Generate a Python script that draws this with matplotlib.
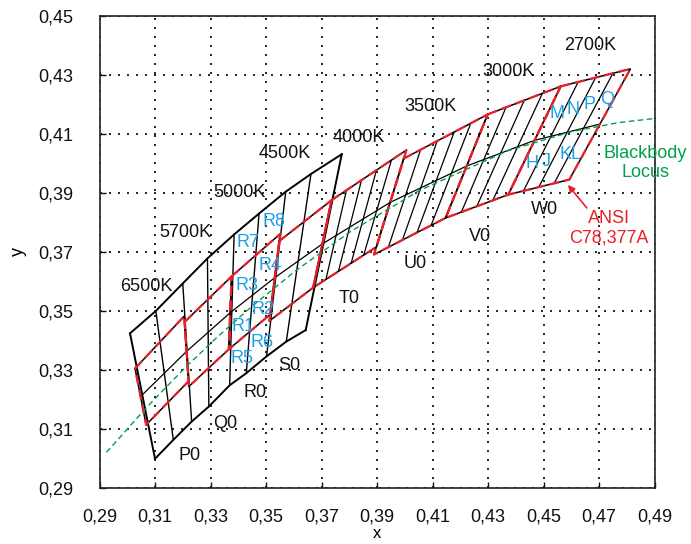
"""
ANSI C78.377A chromaticity quadrangles with LED sub-bins on the CIE 1931 x,y diagram.
"""

import matplotlib
matplotlib.use("Agg")
import matplotlib.pyplot as plt

plt.rcParams["font.family"] = ["Liberation Sans", "DejaVu Sans"]

# ---------------------------------------------------------------------------
# DATA
# ---------------------------------------------------------------------------

# ANSI quadrangles, corners ordered TL, TR, BR, BL
ANSI_CCT = ["6500K", "5700K", "5000K", "4500K", "4000K", "3500K", "3000K", "2700K"]
ANSI_X = [
    [0.3028, 0.3205, 0.3221, 0.3068],
    [0.3207, 0.3376, 0.3366, 0.3222],
    [0.3376, 0.3551, 0.3515, 0.3366],
    [0.3548, 0.3736, 0.3670, 0.3512],
    [0.3736, 0.4006, 0.3898, 0.3670],
    [0.3996, 0.4299, 0.4147, 0.3889],
    [0.4299, 0.4562, 0.4373, 0.4147],
    [0.4562, 0.4813, 0.4593, 0.4373],
]
ANSI_Y = [
    [0.3304, 0.3481, 0.3261, 0.3113],
    [0.3462, 0.3616, 0.3369, 0.3243],
    [0.3616, 0.3760, 0.3487, 0.3369],
    [0.3736, 0.3874, 0.3578, 0.3465],
    [0.3874, 0.4044, 0.3716, 0.3578],
    [0.4015, 0.4165, 0.3814, 0.3690],
    [0.4165, 0.4260, 0.3893, 0.3814],
    [0.4260, 0.4319, 0.3944, 0.3893],
]

# Cool white grid (6500K..4500K), extended one row above and below
GRID_TOP_X = [0.3010, 0.3103, 0.3200, 0.3289, 0.3385, 0.3475, 0.3571, 0.3662, 0.3773]
GRID_TOP_Y = [0.3423, 0.3499, 0.3592, 0.3677, 0.3758, 0.3829, 0.3903, 0.3963, 0.4030]
GRID_BOT_X = [0.3100, 0.3166, 0.3232, 0.3294, 0.3369, 0.3429, 0.3502, 0.3573, 0.3643]
GRID_BOT_Y = [0.2998, 0.3062, 0.3124, 0.3175, 0.3247, 0.3288, 0.3345, 0.3395, 0.3434]

# middle rows
MID_A_X = [0.3048, 0.3214, 0.3371, 0.3532, 0.3703]
MID_A_Y = [0.3209, 0.3362, 0.3493, 0.3612, 0.3726]
MID_B_X = [0.3703, 0.3948, 0.4223, 0.4468, 0.4703]
MID_B_Y = [0.3726, 0.3867, 0.3990, 0.4077, 0.4132]

# warm white sub-bin diagonals (top point -> bottom point)
HATCH_X1 = [0.3790, 0.3844, 0.3898, 0.3952,
            0.4057, 0.4117, 0.4178, 0.4238,
            0.4365, 0.4431, 0.4496,
            0.4625, 0.4688, 0.4750]
HATCH_Y1 = [0.3908, 0.3942, 0.3976, 0.4010,
            0.4045, 0.4075, 0.4105, 0.4135,
            0.4189, 0.4213, 0.4236,
            0.4275, 0.4290, 0.4304]
HATCH_X2 = [0.3716, 0.3761, 0.3807, 0.3852,
            0.3941, 0.3992, 0.4044, 0.4095,
            0.4204, 0.4260, 0.4317,
            0.4428, 0.4483, 0.4538]
HATCH_Y2 = [0.3606, 0.3633, 0.3661, 0.3688,
            0.3715, 0.3740, 0.3764, 0.3789,
            0.3834, 0.3854, 0.3873,
            0.3906, 0.3919, 0.3931]

# Planckian locus
BB_X = [0.2925, 0.2952, 0.3064, 0.3135, 0.3221, 0.3325, 0.3451, 0.3608,
        0.3805, 0.4053, 0.4369, 0.4599, 0.4770, 0.4908]
BB_Y = [0.3020, 0.3048, 0.3166, 0.3236, 0.3318, 0.3411, 0.3516, 0.3636,
        0.3768, 0.3907, 0.4041, 0.4106, 0.4137, 0.4152]

# labels
CCT_LABEL_X = [0.3070, 0.3208, 0.3406, 0.3568, 0.3833, 0.4091, 0.4373, 0.4668]
CCT_LABEL_Y = [0.3583, 0.3765, 0.3901, 0.4033, 0.4087, 0.4193, 0.4309, 0.4400]

ROW_LABELS = ["P0", "Q0", "R0", "S0", "T0", "U0", "V0", "W0"]
ROW_LABEL_X = [0.3226, 0.3352, 0.3460, 0.3584, 0.3801, 0.4037, 0.4270, 0.4502]
ROW_LABEL_Y = [0.3010, 0.3118, 0.3223, 0.3315, 0.3541, 0.3661, 0.3751, 0.3843]

SUB_LABELS = ["R1", "R2", "R3", "R4", "R5", "R6", "R7", "R8",
              "H", "J", "K", "L", "M", "N", "P", "Q"]
SUB_LABEL_X = [0.3418, 0.3490, 0.3430, 0.3514, 0.3412, 0.3484, 0.3436, 0.3529,
               0.4457, 0.4511, 0.4578, 0.4617, 0.4550, 0.4607, 0.4665, 0.4728]
SUB_LABEL_Y = [0.3445, 0.3504, 0.3586, 0.3652, 0.3338, 0.3391, 0.3731, 0.3801,
               0.3999, 0.4004, 0.4030, 0.4030, 0.4169, 0.4182, 0.4197, 0.4214]

X_TICKS = [0.29, 0.31, 0.33, 0.35, 0.37, 0.39, 0.41, 0.43, 0.45, 0.47, 0.49]
Y_TICKS = [0.29, 0.31, 0.33, 0.35, 0.37, 0.39, 0.41, 0.43, 0.45]

# ---------------------------------------------------------------------------
# Style
# ---------------------------------------------------------------------------
RED = "#e8202a"
GREEN = "#00a04b"
BLUE = "#1aa0e6"
FS = 13


def comma(v):
    return f"{v:.2f}".replace(".", ",")


fig = plt.figure(figsize=(6.91, 5.44), dpi=100)
ax = fig.add_axes([0.144, 0.1035, 0.8032, 0.868])

# grid columns (cool white)
for i in range(len(GRID_TOP_X)):
    outer = i in (0, len(GRID_TOP_X) - 1)
    ax.plot([GRID_TOP_X[i], GRID_BOT_X[i]], [GRID_TOP_Y[i], GRID_BOT_Y[i]],
            color="black", lw=1.4 if outer else 1.0, zorder=3)
ax.plot(GRID_TOP_X, GRID_TOP_Y, color="black", lw=1.4, zorder=3)
ax.plot(GRID_BOT_X, GRID_BOT_Y, color="black", lw=1.4, zorder=3)
ax.plot(MID_A_X, MID_A_Y, color="black", lw=0.9, zorder=3)
ax.plot(MID_B_X, MID_B_Y, color="black", lw=0.9, zorder=3)

for x1, y1, x2, y2 in zip(HATCH_X1, HATCH_Y1, HATCH_X2, HATCH_Y2):
    ax.plot([x1, x2], [y1, y2], color="black", lw=0.9, zorder=3)

# ANSI quadrangles: black edge under red dashes
for qx, qy in zip(ANSI_X, ANSI_Y):
    xs = qx + qx[:1]
    ys = qy + qy[:1]
    ax.plot(xs, ys, color="black", lw=1.1, zorder=4)
    ax.plot(xs, ys, color=RED, lw=1.6, dashes=(4.5, 2.2), zorder=5)

# blackbody locus
ax.plot(BB_X, BB_Y, color=GREEN, lw=1.0, dashes=(4, 2.5), zorder=6)

# text
for lab, x, y in zip(ANSI_CCT, CCT_LABEL_X, CCT_LABEL_Y):
    ax.text(x, y, lab, fontsize=FS, ha="center", va="center", color="#111111", zorder=7)
for lab, x, y in zip(ROW_LABELS, ROW_LABEL_X, ROW_LABEL_Y):
    ax.text(x, y, lab, fontsize=FS, ha="center", va="center", color="#111111", zorder=7)
for lab, x, y in zip(SUB_LABELS, SUB_LABEL_X, SUB_LABEL_Y):
    ax.text(x, y, lab, fontsize=FS, ha="center", va="center", color=BLUE, zorder=7)

ax.text(0.4866, 0.3999, "Blackbody\nLocus", fontsize=FS, ha="center", va="center",
        color=GREEN, linespacing=1.15, zorder=7)
ax.text(0.4737, 0.3779, "ANSI\nC78,377A", fontsize=FS, ha="center", va="center",
        color=RED, linespacing=1.15, zorder=7)
ax.annotate("", xy=(0.4588, 0.3926), xytext=(0.4656, 0.3848),
            arrowprops=dict(arrowstyle="-|>", color=RED, lw=1.2,
                            mutation_scale=10, shrinkA=0, shrinkB=0),
            zorder=7)

# axes
ax.set_xlim(0.29, 0.49)
ax.set_ylim(0.29, 0.45)
ax.set_xticks(X_TICKS)
ax.set_xticklabels([comma(v) for v in X_TICKS])
ax.set_yticks(Y_TICKS)
ax.set_yticklabels([comma(v) for v in Y_TICKS])
ax.tick_params(axis="both", direction="in", length=4, width=1.0,
               labelsize=FS, colors="#111111")
ax.tick_params(axis="x", pad=15)
ax.tick_params(axis="y", pad=19)
ax.grid(True, color="black", lw=1.2, linestyle=(0, (1.2, 4.2)))
ax.set_axisbelow(True)
for sp in ax.spines.values():
    sp.set_linewidth(1.2)
    sp.set_color("#222222")

ax.set_xlabel("x", fontsize=12, labelpad=0)
ax.set_ylabel("y", fontsize=FS, labelpad=8)

fig.savefig("out.png", dpi=100)
